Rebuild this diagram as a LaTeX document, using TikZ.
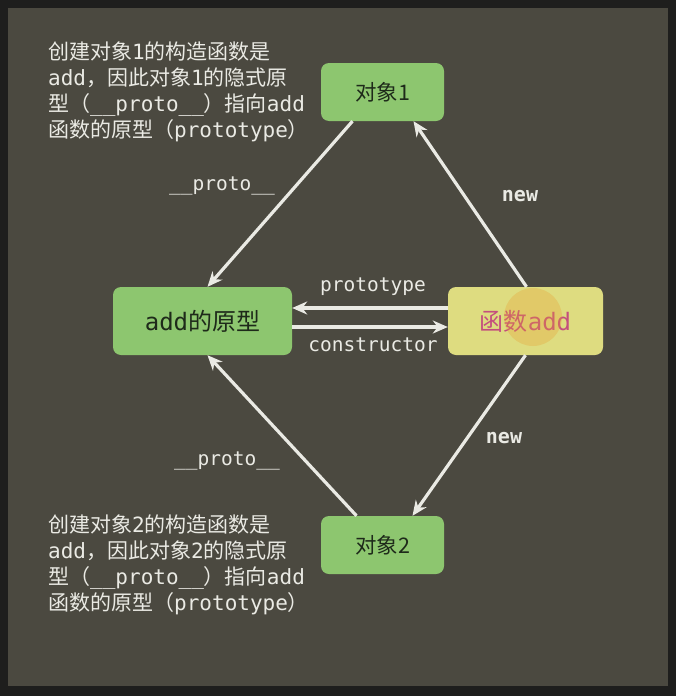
\documentclass[tikz,border=0pt]{standalone}
\usepackage{fontspec}
\setmainfont{Noto Sans CJK SC}
\setmonofont{DejaVu Sans Mono}
\usepackage{tikz}
\usetikzlibrary {arrows.meta}

\definecolor{frame}{RGB}{30,30,29}
\definecolor{bg}{RGB}{75,73,64}
\definecolor{boxgreen}{RGB}{141,198,111}
\definecolor{boxyellow}{RGB}{222,220,128}
\definecolor{ink}{RGB}{234,234,228}
\definecolor{darkink}{RGB}{30,42,26}
\definecolor{pinkink}{RGB}{196,78,126}
\definecolor{glow}{RGB}{232,160,50}

\begin{document}
\begin{tikzpicture}[x=1pt, y=-1pt,
    box/.style={rounded corners=8pt, minimum width=123pt, minimum height=58pt, fill=boxgreen, text=darkink, font=\fontsize{21.5}{24}\selectfont},
    bigbox/.style={box, minimum width=179pt, minimum height=68pt, font=\fontsize{24}{30}\selectfont},
    arr/.style={-{Stealth[length=15pt, width=13pt]}, line width=3.2pt, draw=ink},
    lbl/.style={text=ink, font=\fontsize{19.5}{22}\ttfamily},
    note/.style={anchor=north west, inner sep=0pt, align=left, text=ink, font=\fontsize{21}{25.7}\selectfont}]
  % 背景
  \useasboundingbox (0,0) rectangle (676,696);
  \fill[frame] (0,0) rectangle (676,696);
  \fill[bg] (8,8) rectangle (668,686);

  % 节点
  \node[box] (obj1) at (382.5,92) {对象1};
  \node[box] (obj2) at (382.5,545) {对象2};
  \node[bigbox] (proto) at (202.5,321) {\texttt{add}的原型};
  \node[bigbox, minimum width=155pt, fill=boxyellow, text=pinkink] (func) at (525.5,321) {函数\texttt{add}};
  \fill[glow, opacity=0.3] (533,317) circle[radius=29pt];

  % 箭头
  \draw[arr] ([yshift=13pt]func.west) -- ([yshift=13pt]proto.east);
  \draw[arr] ([yshift=-6pt]proto.east) -- ([yshift=-6pt]func.west);
  \draw[arr] ([xshift=-30pt]obj1.south) -- ([xshift=5pt]proto.north);
  \draw[arr] ([xshift=1pt]func.north) -- ([xshift=31pt]obj1.south);
  \draw[arr] ([xshift=-26pt]obj2.north) -- ([xshift=5pt]proto.south);
  \draw[arr] (func.south) -- ([xshift=30pt]obj2.north);

  % 箭头上的文字
  \node[lbl] (ptype) at (373,287) {prototype};
  \node[lbl] (ctor) at (373,345) {constructor};
  \node[lbl] (up1) at (222,186) {\_\_proto\_\_};
  \node[lbl] (up2) at (227,461) {\_\_proto\_\_};
  \node[lbl, font=\fontsize{20}{22}\ttfamily\bfseries] (new1) at (520,196) {new};
  \node[lbl, font=\fontsize{20}{22}\ttfamily\bfseries] (new2) at (504,438) {new};

  % 说明文字
  \node[note] (note1) at (48,42) {创建对象\texttt{1}的构造函数是\\\texttt{add}，因此对象\texttt{1}的隐式原\\型（\texttt{\_\_proto\_\_}）指向\texttt{add}\\函数的原型（\texttt{prototype}）};
  \node[note] (note2) at (48,515) {创建对象\texttt{2}的构造函数是\\\texttt{add}，因此对象\texttt{2}的隐式原\\型（\texttt{\_\_proto\_\_}）指向\texttt{add}\\函数的原型（\texttt{prototype}）};
\end{tikzpicture}
\end{document}
